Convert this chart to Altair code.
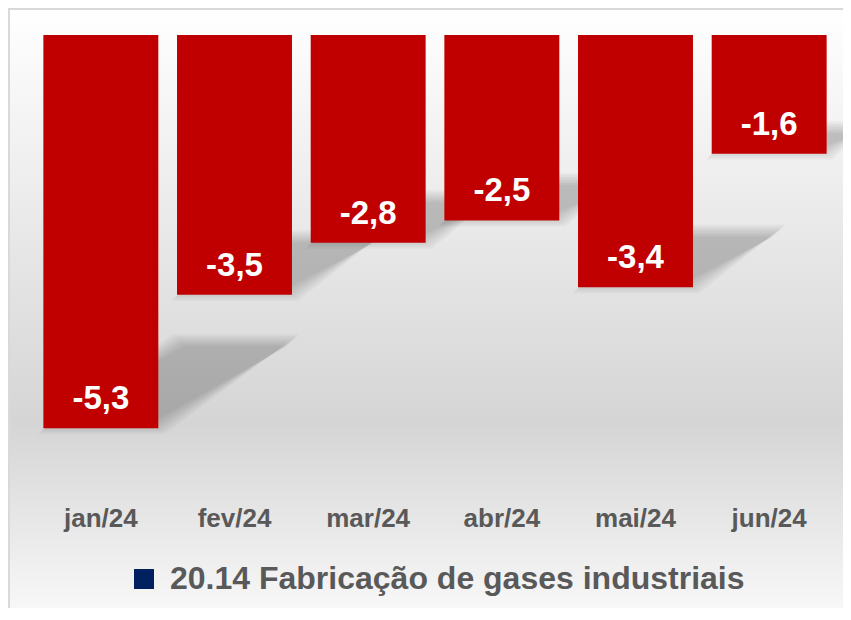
import altair as alt
import pandas as pd

# ---- data ----
meses = ["jan/24", "fev/24", "mar/24", "abr/24", "mai/24", "jun/24"]
valores = [-5.3, -3.5, -2.8, -2.5, -3.4, -1.6]
serie = "20.14 Fabricação de gases industriais"

# ---- layout / style ----
W, H = 802, 460
PAD = {"left": 26, "top": 27, "right": 7, "bottom": 113}
FONT = "Liberation Sans"
GRAY = "#595959"
RED = "#C00000"
NAVY = "#002060"
Y_DOMAIN = [-6.2, 0]
P_INNER, P_OUTER = 0.14, 0.07

df = pd.DataFrame({"mes": meses, "valor": valores, "serie": [serie] * len(meses)})

# perspective shadow (decorative), derived from the bar values
px_per_unit = H / (Y_DOMAIN[1] - Y_DOMAIN[0])
step_px = W / len(meses)
rows = []
for i, (m, v) in enumerate(zip(meses, valores)):
    L = abs(v) * px_per_unit
    shift = 0.3435 * L / step_px
    rise = 0.224 * L / px_per_unit
    for k, e in enumerate([-6, -4, -2, 0, 2, 4, 6]):
        ex = e / step_px
        ey = e / px_per_unit
        left = i + P_OUTER - ex
        right = i + 1 - P_OUTER + ex
        rows.append({"grp": f"{i}-{k}", "sy": v - ey, "sx1": left, "sx2": right})
        rows.append({"grp": f"{i}-{k}", "sy": v + rise + ey, "sx1": left + shift, "sx2": right + shift})
shadow_df = pd.DataFrame(rows)

gradient = alt.LinearGradient(
    gradient="linear",
    stops=[
        alt.GradientStop(color="#ffffff", offset=0),
        alt.GradientStop(color="#d5d5d5", offset=0.66),
        alt.GradientStop(color="#fdfdfd", offset=1),
    ],
    x1=0, x2=0, y1=0, y2=1,
)

background = alt.Chart(pd.DataFrame({"a": [0]})).mark_rect(
    fill=gradient, stroke="#d9d9d9", strokeWidth=2
).encode(
    x=alt.value(-PAD["left"] + 1),
    x2=alt.value(W + PAD["right"] + 20),
    y=alt.value(-PAD["top"] + 1),
    y2=alt.value(H + PAD["bottom"] + 30),
)

shadows = alt.Chart(shadow_df).mark_area(
    orient="horizontal", color="black", opacity=0.032
).encode(
    y=alt.Y("sy:Q", scale=alt.Scale(domain=Y_DOMAIN, nice=False), axis=None),
    x=alt.X("sx1:Q", scale=alt.Scale(domain=[0, len(meses)], nice=False, zero=False), axis=None, stack=None),
    x2="sx2:Q",
    detail="grp:N",
)

x_enc = alt.X(
    "mes:N",
    sort=meses,
    scale=alt.Scale(paddingInner=P_INNER, paddingOuter=P_OUTER),
    axis=alt.Axis(
        title=None, orient="bottom", zindex=1, labelAngle=0, ticks=False,
        domain=False, grid=False,
        labelFont=FONT, labelFontSize=26, labelFontWeight="bold",
        labelColor=GRAY, labelPadding=10,
    ),
)
y_enc = alt.Y("valor:Q", scale=alt.Scale(domain=Y_DOMAIN, nice=False), axis=None)

legend_layer = alt.Chart(df).mark_bar(opacity=0).encode(
    x=x_enc,
    y=y_enc,
    color=alt.Color(
        "serie:N",
        scale=alt.Scale(range=[NAVY]),
        legend=alt.Legend(
            title=None, orient="none", legendX=94, legendY=528, zindex=1,
            symbolType="square", symbolSize=400, symbolOpacity=1,
            symbolStrokeWidth=0, labelOffset=10,
            labelFont=FONT, labelFontSize=32, labelFontWeight="bold",
            labelColor=GRAY, labelLimit=800,
        ),
    ),
)

bars = alt.Chart(df).mark_bar(color=RED).encode(x=x_enc, y=y_enc)

labels = alt.Chart(df).transform_calculate(
    rotulo="(datum.valor < 0 ? '-' : '') + replace(format(abs(datum.valor), '.1f'), '.', ',')"
).mark_text(
    font=FONT, fontSize=33, fontWeight="bold", color="white",
    baseline="alphabetic", dy=-19,
).encode(x=x_enc, y=y_enc, text="rotulo:N")

inner = alt.layer(legend_layer, bars, labels)

chart = alt.layer(background, shadows, inner).resolve_scale(
    x="independent"
).properties(
    width=W, height=H, padding=PAD,
    autosize=alt.AutoSizeParams(type="none"),
).configure_view(stroke=None)

chart.save("out.html", embed_options={"renderer": "svg", "actions": False})
